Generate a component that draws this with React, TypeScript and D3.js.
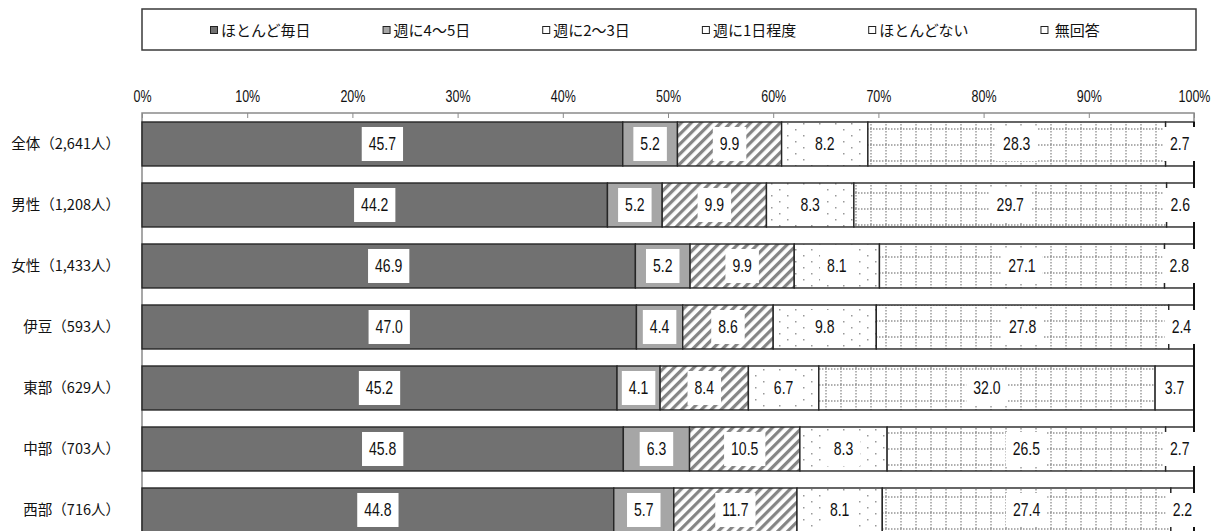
import React, { useEffect, useRef } from 'react';
import * as d3 from 'd3';

// rows of the chart
const categories = ['全体（2,641人）', '男性（1,208人）', '女性（1,433人）', '伊豆（593人）', '東部（629人）', '中部（703人）', '西部（716人）'];

// legend / series names
const seriesNames = ['ほとんど毎日', '週に4～5日', '週に2～3日', '週に1日程度', 'ほとんどない', '\u00a0無回答'];

// series values (%)
const everyDay = [45.7, 44.2, 46.9, 47.0, 45.2, 45.8, 44.8];
const fourToFive = [5.2, 5.2, 5.2, 4.4, 4.1, 6.3, 5.7];
const twoToThree = [9.9, 9.9, 9.9, 8.6, 8.4, 10.5, 11.7];
const oncePerWeek = [8.2, 8.3, 8.1, 9.8, 6.7, 8.3, 8.1];
const rarely = [28.3, 29.7, 27.1, 27.8, 32.0, 26.5, 27.4];
const noAnswer = [2.7, 2.6, 2.8, 2.4, 3.7, 2.7, 2.2];

const tickValues = [0, 0.1, 0.2, 0.3, 0.4, 0.5, 0.6, 0.7, 0.8, 0.9, 1];

const NUM_FONT = "'Liberation Sans', Arial, sans-serif";
const JP_FONT = "'Noto Sans CJK JP', sans-serif";
const NARROW = 0.78; // squeeze numbers like a narrow face

export default function App() {
  const svgRef = useRef<SVGSVGElement>(null);

  useEffect(() => {
    if (!svgRef.current) return;
    const W = 1214, H = 531;
    const svg = d3.select(svgRef.current);
    svg.selectAll('*').remove();

    const left = 142, right = 1194, top = 113;
    const step = 61, pIn = 0.279, pOut = 0.1475;

    const x = d3.scaleLinear().domain([0, 1]).range([left, right]);
    const y = d3.scaleBand<string>()
      .domain(categories)
      .range([top, top + step * (categories.length - pIn + 2 * pOut)])
      .paddingInner(pIn)
      .paddingOuter(pOut);

    const keys = ['s0', 's1', 's2', 's3', 's4', 's5'];
    const series = [everyDay, fourToFive, twoToThree, oncePerWeek, rarely, noAnswer];
    const rows = categories.map((c, i) => {
      const r: any = { cat: c };
      keys.forEach((k, j) => (r[k] = series[j][i]));
      return r;
    });
    const stacked = d3.stack<any>().keys(keys).offset(d3.stackOffsetExpand)(rows);

    // patterns
    const defs = svg.append('defs');
    const hatch = defs.append('pattern').attr('id', 'hatch')
      .attr('patternUnits', 'userSpaceOnUse').attr('width', 7).attr('height', 7)
      .attr('patternTransform', 'rotate(45)');
    hatch.append('rect').attr('width', 7).attr('height', 7).attr('fill', '#fff');
    hatch.append('rect').attr('width', 3.2).attr('height', 7).attr('fill', '#858585');

    const dots = defs.append('pattern').attr('id', 'dots')
      .attr('patternUnits', 'userSpaceOnUse').attr('width', 16).attr('height', 12);
    dots.append('rect').attr('width', 16).attr('height', 12).attr('fill', '#fff');
    dots.append('rect').attr('x', 3).attr('y', 3).attr('width', 1.5).attr('height', 1.5).attr('fill', '#999');
    dots.append('rect').attr('x', 11).attr('y', 9).attr('width', 1.5).attr('height', 1.5).attr('fill', '#999');

    const grid = defs.append('pattern').attr('id', 'grid')
      .attr('patternUnits', 'userSpaceOnUse').attr('width', 15).attr('height', 16);
    grid.append('rect').attr('width', 15).attr('height', 16).attr('fill', '#fff');
    grid.append('line').attr('x1', 0).attr('x2', 15).attr('y1', 1).attr('y2', 1)
      .attr('stroke', '#959595').attr('stroke-width', 1.4).attr('stroke-dasharray', '1.5 1.5');
    grid.append('line').attr('x1', 1).attr('x2', 1).attr('y1', 0).attr('y2', 16)
      .attr('stroke', '#959595').attr('stroke-width', 1.4).attr('stroke-dasharray', '1.5 1.5');

    const fills = ['#717171', '#a6a6a6', 'url(#hatch)', 'url(#dots)', 'url(#grid)', '#ffffff'];
    const markerFills = ['#717171', '#a6a6a6', '#fff', '#fff', '#fff', '#fff'];

    svg.append('rect').attr('width', W).attr('height', H).attr('fill', '#fff');

    // legend box
    const legendTop = 9, legendH = 41;
    svg.append('rect')
      .attr('x', left).attr('y', legendTop).attr('width', 1196 - left).attr('height', legendH)
      .attr('fill', '#fff').attr('stroke', '#3a3a3a').attr('stroke-width', 1.5);

    const lg = svg.append('g');
    let cx = 214;
    seriesNames.forEach((name, i) => {
      const g = lg.append('g').attr('transform', `translate(${cx},${legendTop + legendH / 2 + 1})`);
      g.append('rect').attr('x', -3.5).attr('y', -4).attr('width', 7).attr('height', 7)
        .attr('fill', markerFills[i]).attr('stroke', '#222').attr('stroke-width', 1);
      const t = g.append('text').attr('x', 7).attr('y', 0).attr('dy', '0.35em')
        .attr('font-family', JP_FONT).attr('font-size', 15).attr('fill', '#111')
        .text(name);
      const w = (t.node() as SVGTextElement).getComputedTextLength();
      cx += 7 + w + 76;
    });

    // plot frame
    svg.append('rect')
      .attr('x', left).attr('y', top).attr('width', right - left).attr('height', H)
      .attr('fill', 'none').attr('stroke', '#8a8a8a').attr('stroke-width', 1.5);

    // top axis
    const axis = svg.append('g').attr('transform', `translate(0,${top})`)
      .call(d3.axisTop(x).tickValues(tickValues).tickFormat(d3.format('.0%'))
        .tickSize(-5).tickSizeOuter(0).tickPadding(11));
    axis.select('.domain').remove();
    axis.selectAll('line').attr('stroke', '#8a8a8a').attr('stroke-width', 1);
    axis.selectAll('.tick text')
      .attr('font-family', NUM_FONT).attr('font-size', 16).attr('fill', '#111')
      .attr('transform', `scale(${NARROW},1)`)
      .attr('x', 0);

    // bars
    stacked.forEach((layer, j) => {
      svg.append('g').selectAll('rect')
        .data(layer)
        .join('rect')
        .attr('x', d => x(d[0]))
        .attr('y', d => y(d.data.cat)!)
        .attr('width', d => x(d[1]) - x(d[0]))
        .attr('height', y.bandwidth())
        .attr('fill', fills[j])
        .attr('stroke', '#262626')
        .attr('stroke-width', 1.4);
    });

    // right edge line
    svg.append('line')
      .attr('x1', right).attr('x2', right)
      .attr('y1', y(categories[0])!).attr('y2', H)
      .attr('stroke', '#111').attr('stroke-width', 2);

    // value labels
    stacked.forEach((layer, j) => {
      layer.forEach((d, i) => {
        const mx = (x(d[0]) + x(d[1])) / 2;
        const my = y(d.data.cat)! + y.bandwidth() / 2;
        const g = svg.append('g').attr('transform', `translate(${mx},${my})`);
        const rect = g.append('rect').attr('fill', '#fff');
        const t = g.append('text')
          .attr('text-anchor', 'middle').attr('dy', '0.36em')
          .attr('font-family', NUM_FONT).attr('font-size', 18).attr('fill', '#111')
          .attr('transform', `scale(${NARROW},1)`)
          .text(series[j][i].toFixed(1));
        const w = (t.node() as SVGTextElement).getComputedTextLength() * NARROW;
        rect.attr('x', -w / 2 - 7).attr('y', -17).attr('width', w + 14).attr('height', 34);
      });
    });

    // category labels
    svg.append('g').selectAll('text')
      .data(categories)
      .join('text')
      .attr('x', 120)
      .attr('y', d => y(d)! + y.bandwidth() / 2)
      .attr('dy', '0.35em')
      .attr('text-anchor', 'end')
      .attr('font-family', JP_FONT)
      .attr('font-size', 14.5)
      .attr('fill', '#111')
      .text(d => d);
  }, []);

  return (
    <svg ref={svgRef} width={1214} height={531}
      style={{ position: 'absolute', left: 0, top: 0, display: 'block' }} />
  );
}
